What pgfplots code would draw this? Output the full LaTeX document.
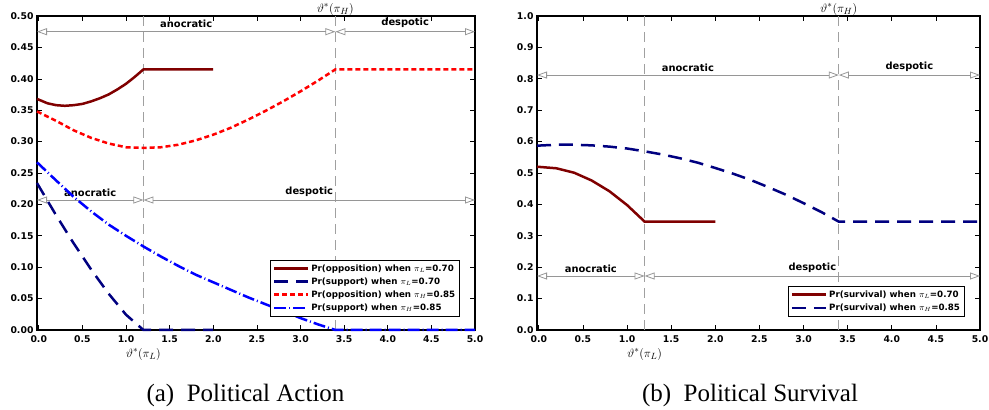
\documentclass[border=0pt]{standalone}
\usepackage{fontspec}
\setmainfont{Liberation Sans}
\newfontfamily\serifcap{Liberation Serif}
\newfontfamily\dvs{DejaVu Sans}
\usepackage{pgfplots}
\pgfplotsset{compat=1.18}
\usetikzlibrary{arrows.meta}
\definecolor{dred}{RGB}{128,0,0}
\definecolor{navyc}{RGB}{0,0,128}
\definecolor{redc}{RGB}{255,0,0}
\definecolor{bluec}{RGB}{0,0,255}
\definecolor{arrgray}{RGB}{150,150,150}
\definecolor{vgray}{RGB}{160,160,160}
\pgfplotsset{
  common/.style={
    scale only axis,
    xmin=-0.02, xmax=5,
    xtick={0,0.5,1,1.5,2,2.5,3,3.5,4,4.5,5},
    /pgf/number format/assume math mode=true,
    tick label style={font=\dvs\bfseries\fontsize{9.3}{11}\selectfont},
    xticklabel style={yshift=-2pt,/pgf/number format/fixed,/pgf/number format/fixed zerofill,/pgf/number format/precision=1},
    axis line style={line width=1.4pt},
    major tick length=5pt,
    tick style={black, line width=0.6pt},
    legend cell align=left,
    legend style={at={(0.966,0.042)}, anchor=south east, draw=black, line width=0.8pt,
      font=\dvs\bfseries\fontsize{8.7}{10}\selectfont, row sep=1pt, inner sep=2.5pt},
    legend image code/.code={\draw[#1, line width=2.5pt] (0pt,0pt) -- (34pt,0pt);},
    clip=false,
  },
}
\tikzset{
  regl/.style={font=\dvs\bfseries\fontsize{9.9}{12}\selectfont, anchor=south, yshift=2.5pt, inner sep=1pt},
  arr/.style={arrgray, line width=0.8pt, {Triangle[open,length=10pt,width=7pt]}-{Triangle[open,length=10pt,width=7pt]}},
  vline/.style={vgray, line width=0.9pt, dash pattern=on 10pt off 6pt},
  thl/.style={font=\fontsize{12.5}{14}\selectfont, inner sep=0pt},
}
\begin{document}
\begin{tikzpicture}
\useasboundingbox (0,0) rectangle (989pt,410pt);
% ---------------- Left panel ----------------
\begin{axis}[common, at={(37pt,80pt)}, anchor=south west, width=438pt, height=314pt,
  ymin=0, ymax=0.5,
  ytick={0,0.05,0.1,0.15,0.2,0.25,0.3,0.35,0.4,0.45,0.5},
  yticklabel style={/pgf/number format/fixed,/pgf/number format/fixed zerofill,/pgf/number format/precision=2},
]
\draw[vline] (axis cs:1.2,0) -- (axis cs:1.2,0.5);
\draw[vline] (axis cs:3.4,0) -- (axis cs:3.4,0.5);
\draw[arr] (axis cs:-0.02,0.475) -- (axis cs:3.4,0.475);
\draw[arr] (axis cs:3.4,0.475) -- (axis cs:5,0.475);
\node[regl] at (axis cs:1.69,0.475) {anocratic};
\node[regl] at (axis cs:4.2,0.475) {despotic};
\draw[arr] (axis cs:-0.02,0.207) -- (axis cs:1.2,0.207);
\draw[arr] (axis cs:1.2,0.207) -- (axis cs:5,0.207);
\node[regl] at (axis cs:0.59,0.207) {anocratic};
\node[regl] at (axis cs:3.1,0.207) {despotic};
\node[thl, anchor=south] at ([yshift=0.5pt]axis cs:3.4,0.5) {$\vartheta^*(\pi_H)$};
\node[thl, anchor=north] at ([yshift=-18pt]axis cs:1.2,0) {$\vartheta^*(\pi_L)$};

\addplot[dred, line width=2.5pt] coordinates {
(-0.02,0.368) (0.1,0.361) (0.2,0.358) (0.3,0.357) (0.4,0.358) (0.5,0.360) (0.6,0.364)
(0.7,0.369) (0.8,0.375) (0.9,0.383) (1.0,0.392) (1.1,0.403) (1.2,0.415) (2.0,0.415)};
\addlegendentry{Pr(opposition) when $\pi_L$=0.70}
\addplot[navyc, line width=2.5pt, dash pattern=on 14pt off 8pt] coordinates {
(-0.02,0.234) (0.2,0.1825) (0.4,0.138) (0.6,0.0964) (0.8,0.058) (1.0,0.0244) (1.2,0.0) (2.0,0.0)};
\addlegendentry{Pr(support) when $\pi_L$=0.70}
\addplot[redc, line width=2.5pt, dash pattern=on 5pt off 3pt] coordinates {
(-0.02,0.348) (0.2,0.333) (0.4,0.318) (0.6,0.306) (0.8,0.297) (1.0,0.291) (1.2,0.290)
(1.4,0.291) (1.6,0.295) (1.8,0.302) (2.0,0.311) (2.2,0.322) (2.4,0.335) (2.6,0.349)
(2.8,0.364) (3.0,0.380) (3.2,0.397) (3.4,0.415) (5.0,0.415)};
\addlegendentry{Pr(opposition) when $\pi_H$=0.85}
\addplot[bluec, line width=2.5pt, dash pattern=on 12pt off 3pt on 1pt off 3pt] coordinates {
(-0.02,0.267) (0.2,0.238) (0.4,0.212) (0.6,0.189) (0.8,0.168) (1.0,0.150) (1.2,0.133)
(1.4,0.117) (1.6,0.102) (1.8,0.088) (2.0,0.076) (2.2,0.064) (2.4,0.052) (2.6,0.041)
(2.8,0.030) (3.0,0.019) (3.2,0.009) (3.4,0.0) (5.0,0.0)};
\addlegendentry{Pr(support) when $\pi_H$=0.85}
\end{axis}
% ---------------- Right panel ----------------
\begin{axis}[common, at={(537pt,80pt)}, anchor=south west, width=443pt, height=314pt,
  ymin=0, ymax=1,
  ytick={0,0.1,0.2,0.3,0.4,0.5,0.6,0.7,0.8,0.9,1.0},
  yticklabel style={/pgf/number format/fixed,/pgf/number format/fixed zerofill,/pgf/number format/precision=1},
]
\draw[vline] (axis cs:1.2,0) -- (axis cs:1.2,1);
\draw[vline] (axis cs:3.4,0) -- (axis cs:3.4,1);
\draw[arr] (axis cs:-0.02,0.812) -- (axis cs:3.4,0.812);
\draw[arr] (axis cs:3.4,0.812) -- (axis cs:5,0.812);
\node[regl] at (axis cs:1.69,0.812) {anocratic};
\node[regl] at (axis cs:4.2,0.812) {despotic};
\draw[arr] (axis cs:-0.02,0.172) -- (axis cs:1.2,0.172);
\draw[arr] (axis cs:1.2,0.172) -- (axis cs:5,0.172);
\node[regl] at (axis cs:0.59,0.172) {anocratic};
\node[regl] at (axis cs:3.1,0.172) {despotic};
\node[thl, anchor=south] at ([yshift=0.5pt]axis cs:3.4,1) {$\vartheta^*(\pi_H)$};
\node[thl, anchor=north] at ([yshift=-18pt]axis cs:1.2,0) {$\vartheta^*(\pi_L)$};

\addplot[dred, line width=2.5pt] coordinates {
(-0.02,0.520) (0.2,0.515) (0.4,0.501) (0.6,0.476) (0.8,0.442) (1.0,0.398) (1.2,0.345) (2.0,0.345)};
\addlegendentry{Pr(survival) when $\pi_L$=0.70}
\addplot[navyc, line width=2.5pt, dash pattern=on 14pt off 8pt] coordinates {
(-0.02,0.587) (0.2,0.590) (0.4,0.590) (0.6,0.588) (0.8,0.584) (1.0,0.578) (1.2,0.569)
(1.4,0.559) (1.6,0.547) (1.8,0.533) (2.0,0.516) (2.2,0.498) (2.4,0.478) (2.6,0.455)
(2.8,0.431) (3.0,0.404) (3.2,0.376) (3.4,0.345) (5.0,0.345)};
\addlegendentry{Pr(survival) when $\pi_H$=0.85}
\end{axis}
% captions
\node[font=\serifcap\fontsize{25}{28}\selectfont, anchor=base] at (245.5pt,8pt) {(a)\ \ Political Action};
\node[font=\serifcap\fontsize{25}{28}\selectfont, anchor=base] at (750pt,8pt) {(b)\ \ Political Survival};
\end{tikzpicture}
\end{document}
